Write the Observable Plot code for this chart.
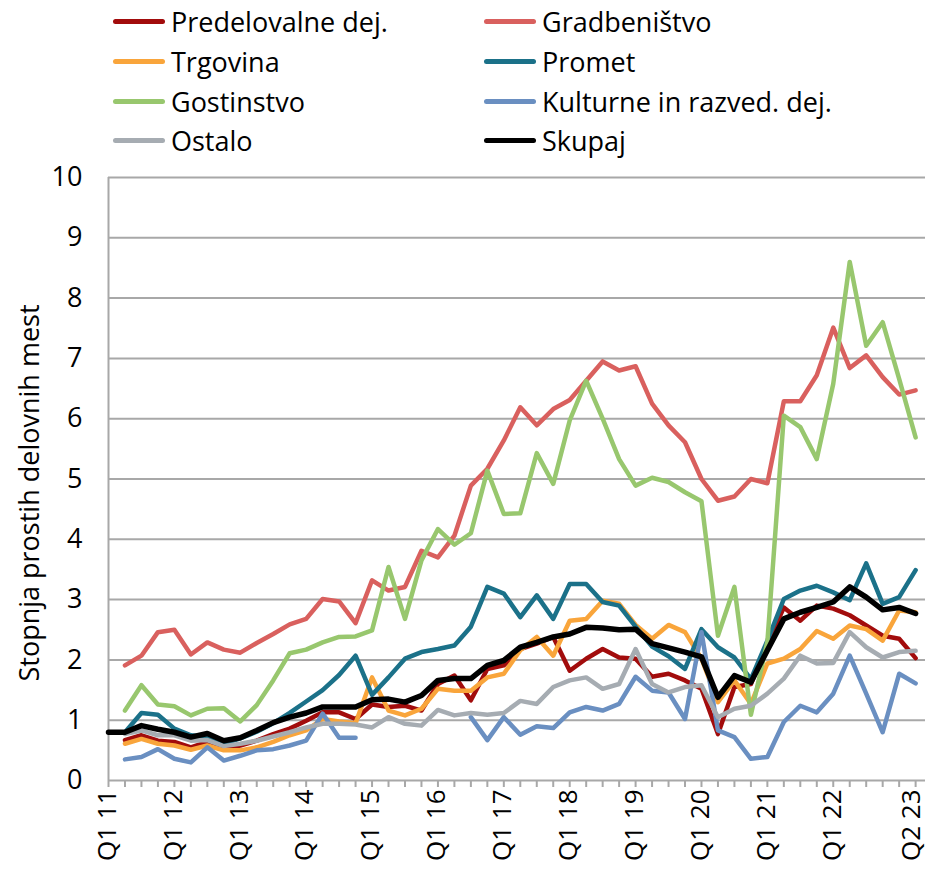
<!DOCTYPE html>
<html><head><meta charset="utf-8">
<script src="https://cdn.jsdelivr.net/npm/d3@7"></script>
<script src="https://cdn.jsdelivr.net/npm/@observablehq/plot@0.6"></script>
<style>
body{margin:0;background:#fff;font-family:"Open Sans",sans-serif;color:#000;}
#wrap{position:relative;width:927px;height:872px;overflow:hidden;}
#legend{position:absolute;left:113px;top:2px;display:grid;grid-template-columns:371px 371px;grid-auto-rows:39.7px;font-size:27px;}
.item{display:flex;align-items:center;white-space:nowrap;}
.sw{width:52px;height:5px;margin-right:6px;border-radius:2.5px;}
#chart{position:absolute;left:0;top:160px;}
</style></head>
<body><div id="wrap"><div id="legend"></div><div id="chart"></div></div>
<script>
const quarters = ["Q1 11","Q2 11","Q3 11","Q4 11","Q1 12","Q2 12","Q3 12","Q4 12","Q1 13","Q2 13","Q3 13","Q4 13",
"Q1 14","Q2 14","Q3 14","Q4 14","Q1 15","Q2 15","Q3 15","Q4 15","Q1 16","Q2 16","Q3 16","Q4 16",
"Q1 17","Q2 17","Q3 17","Q4 17","Q1 18","Q2 18","Q3 18","Q4 18","Q1 19","Q2 19","Q3 19","Q4 19",
"Q1 20","Q2 20","Q3 20","Q4 20","Q1 21","Q2 21","Q3 21","Q4 21","Q1 22","Q2 22","Q3 22","Q4 22",
"Q1 23","Q2 23"];
const xLabelQuarters = ["Q1 11","Q1 12","Q1 13","Q1 14","Q1 15","Q1 16","Q1 17","Q1 18","Q1 19","Q1 20","Q1 21","Q1 22"];
const xLastLabel = ["Q2 23"];
const yTicks = [0,1,2,3,4,5,6,7,8,9,10];
const yLabel = "Stopnja prostih delovnih mest";
const seriesNames = ["Predelovalne dej.","Gradbeništvo","Trgovina","Promet","Gostinstvo","Kulturne in razved. dej.","Ostalo","Skupaj"];
const seriesColors = ["#a20c0c","#d9605e","#f9a53b","#1b7189","#98c76e","#6a8fc1","#a6acb2","#000000"];

const predelovalne = [null,0.67,0.75,0.66,0.64,0.55,0.64,0.53,0.58,0.66,0.77,0.86,0.99,1.13,1.13,1.02,1.26,1.22,1.24,1.16,1.60,1.74,1.33,1.85,1.91,2.18,2.27,2.38,1.82,2.02,2.18,2.04,2.02,1.72,1.77,1.66,1.52,0.77,1.55,1.60,2.25,2.87,2.65,2.90,2.85,2.74,2.57,2.40,2.35,2.03];
const gradbenistvo = [null,1.91,2.07,2.46,2.50,2.09,2.29,2.17,2.12,2.28,2.43,2.59,2.68,3.01,2.97,2.61,3.32,3.15,3.21,3.81,3.70,4.06,4.89,5.17,5.64,6.19,5.89,6.16,6.31,6.63,6.95,6.80,6.87,6.25,5.89,5.61,5.00,4.64,4.71,5.00,4.93,6.29,6.29,6.72,7.51,6.84,7.05,6.69,6.40,6.47];
const trgovina = [null,0.61,0.69,0.61,0.58,0.51,0.58,0.50,0.50,0.55,0.64,0.75,0.83,1.02,0.98,0.95,1.71,1.16,1.08,1.19,1.52,1.49,1.49,1.71,1.77,2.16,2.38,2.07,2.65,2.68,2.98,2.93,2.58,2.35,2.58,2.46,2.02,1.30,1.66,1.27,1.94,2.02,2.18,2.48,2.35,2.57,2.51,2.32,2.82,2.79];
const promet = [null,0.80,1.12,1.09,0.86,0.75,0.72,0.61,0.70,0.81,0.95,1.12,1.31,1.50,1.75,2.07,1.42,1.71,2.02,2.13,2.18,2.24,2.55,3.21,3.10,2.71,3.07,2.68,3.26,3.26,2.96,2.90,2.55,2.22,2.06,1.85,2.51,2.21,2.04,1.68,2.32,3.01,3.15,3.23,3.12,2.99,3.60,2.93,3.04,3.49];
const gostinstvo = [null,1.16,1.58,1.26,1.23,1.08,1.19,1.20,0.98,1.25,1.66,2.11,2.17,2.29,2.38,2.39,2.49,3.54,2.68,3.65,4.17,3.91,4.10,5.14,4.42,4.43,5.43,4.92,5.97,6.63,6.00,5.33,4.89,5.02,4.95,4.78,4.63,2.40,3.21,1.09,2.30,6.05,5.86,5.33,6.58,8.60,7.21,7.60,6.66,5.69];
const kulturne = [null,0.35,0.39,0.52,0.36,0.30,0.55,0.33,0.41,0.50,0.52,0.58,0.66,1.11,0.71,0.71,null,null,null,null,null,null,1.05,0.67,1.05,0.76,0.90,0.87,1.13,1.22,1.16,1.27,1.72,1.49,1.46,1.02,2.46,0.83,0.72,0.36,0.39,0.97,1.24,1.13,1.44,2.07,1.44,0.80,1.77,1.61];
const ostalo = [null,0.77,0.83,0.75,0.75,0.66,0.67,0.57,0.61,0.66,0.73,0.80,0.88,0.94,0.94,0.93,0.88,1.05,0.94,0.91,1.17,1.08,1.12,1.09,1.12,1.32,1.27,1.55,1.66,1.71,1.52,1.60,2.18,1.60,1.46,1.55,1.58,1.05,1.19,1.24,1.44,1.69,2.07,1.94,1.95,2.46,2.21,2.04,2.13,2.15];
const skupaj = [0.80,0.80,0.91,0.85,0.80,0.72,0.78,0.66,0.71,0.83,0.96,1.05,1.12,1.22,1.22,1.22,1.34,1.35,1.30,1.41,1.66,1.69,1.69,1.91,1.99,2.21,2.29,2.38,2.43,2.54,2.53,2.50,2.51,2.27,2.20,2.13,2.05,1.38,1.74,1.63,2.16,2.68,2.79,2.87,2.96,3.21,3.04,2.83,2.87,2.77];

const seriesValues = [predelovalne,gradbenistvo,trgovina,promet,gostinstvo,kulturne,ostalo,skupaj];

// legend
const legend = document.getElementById("legend");
seriesNames.forEach((name, k) => {
  const it = document.createElement("div");
  it.className = "item";
  const sw = document.createElement("span");
  sw.className = "sw";
  sw.style.background = seriesColors[k];
  const tx = document.createElement("span");
  tx.textContent = name;
  it.appendChild(sw); it.appendChild(tx);
  legend.appendChild(it);
});

const data = [];
seriesNames.forEach((name, k) => {
  seriesValues[k].forEach((v, i) => data.push({series: name, i, q: quarters[i], v}));
});
const colored = data.filter(d => d.series !== "Skupaj");
const total = data.filter(d => d.series === "Skupaj");
const allIdx = quarters.map((q, i) => i);
const labelIdx = xLabelQuarters.map(q => quarters.indexOf(q));
const lastIdx = xLastLabel.map(q => quarters.indexOf(q));

const chart = Plot.plot({
  width: 927, height: 712,
  marginLeft: 108, marginRight: 2, marginTop: 17, marginBottom: 92,
  style: {fontFamily: "'Open Sans', sans-serif", fontSize: "27px", color: "#000", background: "#fff", overflow: "visible"},
  x: {type: "linear", domain: [0, 49.6]},
  y: {domain: [0, 10]},
  color: {domain: seriesNames, range: seriesColors},
  marks: [
    Plot.ruleY(yTicks.filter(t => t > 0), {stroke: "#a8a8a8", strokeWidth: 2}),
    Plot.axisY({ticks: yTicks, tickSize: 0, tickPadding: 26, label: null, fontSize: 27}),
    Plot.axisX({ticks: allIdx, tickSize: 7, tickFormat: () => "", stroke: "#a8a8a8", strokeWidth: 2, label: null}),
    Plot.axisX({ticks: labelIdx, tickSize: 0, tickPadding: 9, tickRotate: -90, tickFormat: i => quarters[i], label: null, fontSize: 26, dx: -1}),
    Plot.axisX({ticks: lastIdx, tickSize: 0, tickPadding: 9, tickRotate: -90, tickFormat: i => quarters[i], label: null, fontSize: 26, dx: -4}),
    Plot.ruleY([0], {stroke: "#a8a8a8", strokeWidth: 2}),
    Plot.ruleX([0], {stroke: "#a8a8a8", strokeWidth: 2}),
    Plot.text([yLabel], {text: d => d, frameAnchor: "left", rotate: -90, dx: -78, dy: 14, fontSize: 27, textAnchor: "middle", fill: "#000"}),
    Plot.line(colored, {x: "i", y: "v", z: "series", stroke: "series", strokeWidth: 4.5, strokeLinejoin: "round", strokeLinecap: "round"}),
    Plot.line(total, {x: "i", y: "v", z: "series", stroke: "series", strokeWidth: 5.5, strokeLinejoin: "round", strokeLinecap: "round"})
  ]
});
document.getElementById("chart").appendChild(chart);
</script>
</body></html>
